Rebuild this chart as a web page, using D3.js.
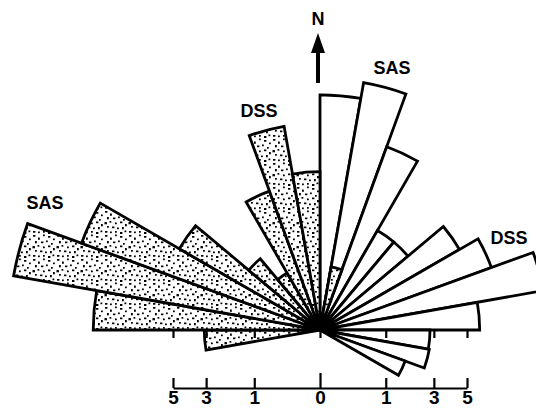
<!DOCTYPE html>
<html>
<head>
<meta charset="utf-8">
<script src="https://cdn.jsdelivr.net/npm/d3@7"></script>
<style>
    body { margin: 0; background: #fff; }
    svg text { font-family: "Liberation Sans", Arial, sans-serif; font-weight: bold; fill: #000; }
</style>
</head>
<body>
<svg id="rose"></svg>
<script>
// 10 degree classes, azimuth of class start (clockwise from N)
const openAz = [0, 10, 20, 30, 40, 50, 60, 70, 80, 90, 100, 110];
const openVal = [12.8, 14.6, 8.8, 3.05, 3.05, 6.0, 7.7, 11.9, 5.9, 2.8, 2.85, 1.9];
const dotAz = [260, 270, 280, 290, 300, 310, 320, 330, 340, 350, 10];
const dotVal = [3.1, 11.9, 22.4, 14.9, 6.1, 2.0, 1.0, 5.05, 9.9, 5.8, 0.95];
// scale bar, left side written as negatives
const barTicks = [-5, -3, -1, 0, 1, 3, 5];
const baseTicks = [-5, -3, -1, 0, 1, 3, 5];

const width = 536, height = 408;
const cx = 320, cy = 330;

const svg = d3.select("#rose")
    .attr("width", width)
    .attr("height", height);

// stipple tile (hand placed dots)
const dots = [
    [1, 1], [6, 3.5], [11, 0.5], [16, 2], [21, 4.5],
    [3, 7], [9, 7.5], [14, 6.5], [19, 9],
    [0.5, 12], [5.5, 11], [11, 12.5], [16, 11.5], [21, 14],
    [3, 16], [8, 16.5], [13, 17.5], [18, 17],
    [1, 21], [6, 21.5], [11, 21], [16, 22], [20.5, 20.5]
];
const pat = svg.append("defs").append("pattern")
    .attr("id", "stip")
    .attr("patternUnits", "userSpaceOnUse")
    .attr("width", 24)
    .attr("height", 24);
pat.append("rect").attr("width", 24).attr("height", 24).attr("fill", "#fff");
pat.selectAll("rect.d")
    .data(dots)
    .join("rect")
    .attr("class", "d")
    .attr("x", d => d[0])
    .attr("y", d => d[1])
    .attr("width", (d, i) => i % 3 == 0 ? 2.4 : 1.8)
    .attr("height", (d, i) => i % 4 == 1 ? 2.3 : 1.7)
    .attr("fill", "#000");

// equal area rose: radius ~ sqrt(value)
const r = d3.scaleSqrt().domain([0, 5]).range([0, 147]);
const rad = Math.PI / 180;
const arc = d3.arc()
    .innerRadius(0)
    .outerRadius(d => r(d.v))
    .startAngle(d => d.az * rad)
    .endAngle(d => (d.az + 10) * rad);

const openData = openAz.map((az, i) => ({az: az, v: openVal[i]}));
const dotData = dotAz.map((az, i) => ({az: az, v: dotVal[i]}));

const g = svg.append("g").attr("transform", `translate(${cx},${cy})`);

g.append("g")
    .selectAll("path")
    .data(openData)
    .join("path")
    .attr("d", arc)
    .attr("fill", "#fff")
    .attr("stroke", "#000")
    .attr("stroke-width", 2.8)
    .attr("stroke-linejoin", "miter");

g.append("g")
    .selectAll("path")
    .data(dotData)
    .join("path")
    .attr("d", arc)
    .attr("fill", "url(#stip)")
    .attr("stroke", "#000")
    .attr("stroke-width", 2.8)
    .attr("stroke-linejoin", "miter");

// dark knot where the petals meet
g.append("path")
    .attr("d", d3.arc()({innerRadius: 0, outerRadius: 15, startAngle: -100 * rad, endAngle: 115 * rad}))
    .attr("fill", "#000");

// ticks on the E-W line
const x = d3.scaleSqrt().domain([-5, 5]).range([cx - r(5), cx + r(5)]);
const base = svg.append("g")
    .attr("transform", `translate(0,${cy})`)
    .call(d3.axisBottom(x).tickValues(baseTicks).tickSize(8).tickFormat(""));
base.select(".domain").remove();
base.selectAll("line").attr("stroke-width", 2.2);

// scale bar
const bar = svg.append("g")
    .attr("transform", "translate(0,388)")
    .call(d3.axisBottom(x)
        .tickValues(barTicks)
        .tickSizeInner(-10)
        .tickSizeOuter(0)
        .tickPadding(2.5)
        .tickFormat(d => Math.abs(d)));
bar.select(".domain").attr("stroke-width", 2);
bar.selectAll("line").attr("stroke-width", 2.2);
bar.selectAll("line").filter(d => d == 0).attr("y2", -15);
bar.selectAll("text")
    .style("font-family", "'Liberation Sans', Arial, sans-serif")
    .style("font-weight", "bold")
    .style("font-size", "19px");

// north arrow
svg.append("rect").attr("x", cx - 4).attr("y", 50).attr("width", 4).attr("height", 33).attr("fill", "#000");
svg.append("path")
    .attr("d", `M${cx - 9},53 L${cx - 2},33 L${cx + 5},53 Z`)
    .attr("fill", "#000");
svg.append("text").attr("x", cx - 2).attr("y", 25)
    .attr("text-anchor", "middle").style("font-size", "18px").text("N");

const lab = (t, lx, ly) => svg.append("text")
    .attr("x", lx).attr("y", ly)
    .attr("text-anchor", "middle")
    .style("font-size", "18px")
    .text(t);
lab("SAS", 392, 74);
lab("DSS", 259, 117);
lab("SAS", 45, 209);
lab("DSS", 509, 244);
</script>
</body>
</html>
